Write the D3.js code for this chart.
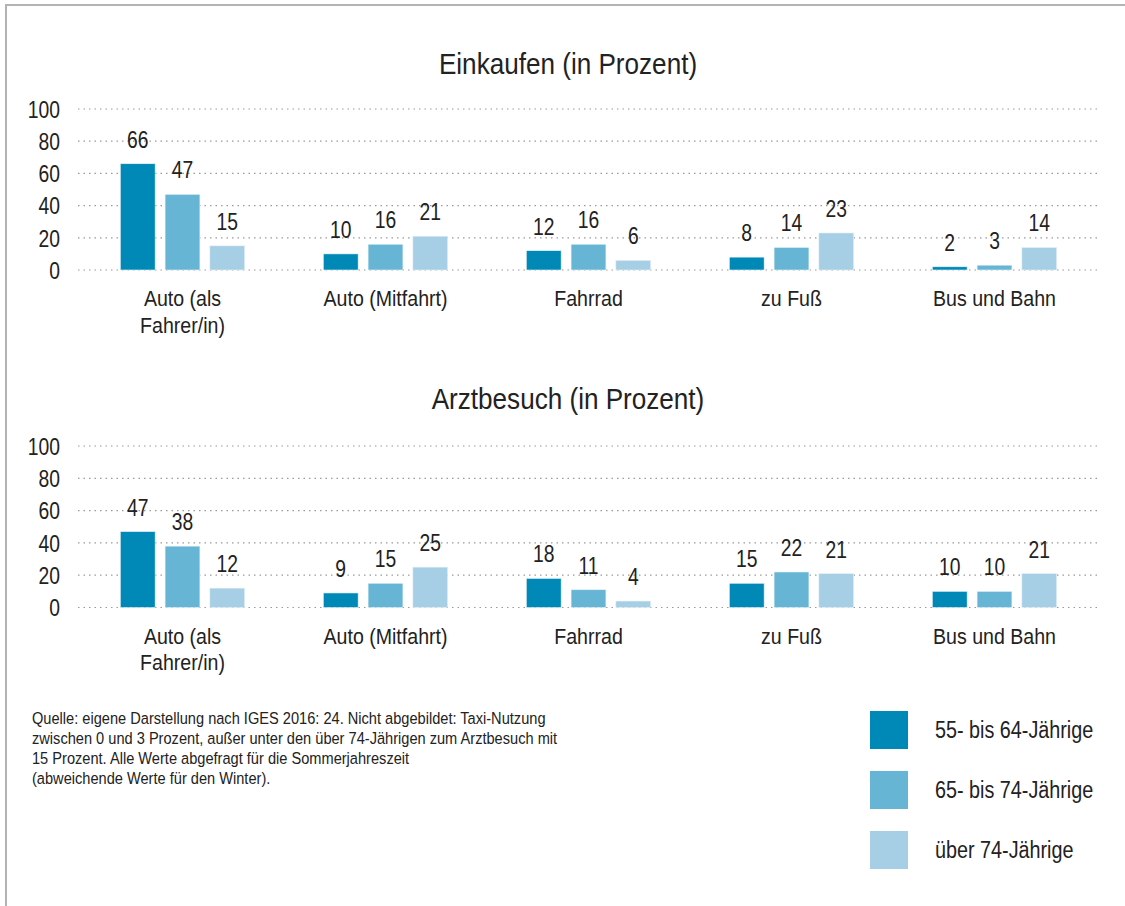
<!DOCTYPE html>
<html><head><meta charset="utf-8">
<script src="https://cdn.jsdelivr.net/npm/d3@7"></script>
<style>
html,body{margin:0;padding:0;background:#fff;}
svg{display:block;}
text{font-family:"Liberation Sans Narrow","Arial Narrow","Liberation Sans",Arial,sans-serif;fill:#222;}
</style></head>
<body>
<svg id="chart" width="1125" height="906"></svg>
<script>
const categories = [["Auto (als","Fahrer/in)"],["Auto (Mitfahrt)"],["Fahrrad"],["zu Fuß"],["Bus und Bahn"]];
const seriesNames = ["55- bis 64-Jährige","65- bis 74-Jährige","über 74-Jährige"];
const colors = ["#0088b7","#66b5d5","#a6cee4"];
const einkaufen = [[66,47,15],[10,16,21],[12,16,6],[8,14,23],[2,3,14]];
const arztbesuch = [[47,38,12],[9,15,25],[18,11,4],[15,22,21],[10,10,21]];
const yTicks = [0,20,40,60,80,100];
const titles = ["Einkaufen (in Prozent)","Arztbesuch (in Prozent)"];
const footnote = [
 "Quelle: eigene Darstellung nach IGES 2016: 24. Nicht abgebildet: Taxi-Nutzung",
 "zwischen 0 und 3 Prozent, außer unter den über 74-Jährigen zum Arztbesuch mit",
 "15 Prozent. Alle Werte abgefragt für die Sommerjahreszeit",
 "(abweichende Werte für den Winter)."
];

const svg = d3.select("#chart");
// narrow text: placed at origin, moved and condensed with a transform
function ntext(parent, x, y, size, sx, anchor){
  return parent.append("text").attr("x",0).attr("y",0)
    .attr("transform",`translate(${x},${y}) scale(${sx},1)`)
    .attr("font-size",size).attr("text-anchor",anchor||"start");
}
// frame
svg.append("path").attr("d","M6,906 V5 H1125").attr("fill","none").attr("stroke","#b3b3b3").attr("stroke-width",2);

const catKeys = categories.map(c=>c.join(" "));
const x0 = d3.scaleBand().domain(catKeys).range([81,1096]);
const x1 = d3.scaleBand().domain(d3.range(3)).range([0,x0.bandwidth()]).paddingInner(10/45).paddingOuter(0.878);

function panel(data, title, y0, y100, titleY){
  const y = d3.scaleLinear().domain([0,100]).range([y0,y100]);
  const g = svg.append("g");
  ntext(g, 568, titleY, 30, 0.87, "middle").text(title);
  // grid
  g.selectAll("line.grid").data(yTicks).join("line")
    .attr("x1",78).attr("x2",1098).attr("y1",d=>y(d)).attr("y2",d=>y(d))
    .attr("stroke","#9a9a9a").attr("stroke-width",1.2).attr("stroke-dasharray","1.5,4");
  const ax = d3.axisLeft(y).tickValues(yTicks).tickSize(0).tickPadding(0);
  const axg = g.append("g").attr("transform","translate(60,0)").call(ax);
  axg.select(".domain").remove();
  axg.attr("font-family",null).attr("font-size",null);
  axg.selectAll("text").attr("font-size",23).attr("fill","#222").attr("dy","0.36em")
    .attr("transform","scale(0.84,1)");
  // bars
  const groups = g.selectAll("g.cat").data(data).join("g")
    .attr("transform",(d,i)=>`translate(${x0(catKeys[i])},0)`);
  groups.selectAll("rect").data(d=>d).join("rect")
    .attr("x",(d,i)=>x1(i)).attr("width",x1.bandwidth())
    .attr("y",d=>y(d)).attr("height",d=>y(0)-y(d))
    .attr("fill",(d,i)=>colors[i]).attr("stroke","#e6f2f8").attr("stroke-width",0.6);
  groups.each(function(d){
    const gg = d3.select(this);
    d.forEach((v,i)=>ntext(gg, x1(i)+x1.bandwidth()/2, y(v)-16, 23, 0.84, "middle").text(v));
  });
  // category labels
  categories.forEach((c,i)=>{
    const t = ntext(g, x0(catKeys[i])+x0.bandwidth()/2, y0+36, 22, 0.89, "middle");
    c.forEach((line,j)=>t.append("tspan").attr("x",0).attr("dy",j?27:0).text(line));
  });
}
panel(einkaufen, titles[0], 270, 109, 74);
panel(arztbesuch, titles[1], 607.5, 446, 409);

// footnote
const fn = ntext(svg, 32, 724, 16.5, 0.885, "start");
footnote.forEach((l,i)=>fn.append("tspan").attr("x",0).attr("y",i*20).text(l));

// legend
const lg = svg.append("g");
seriesNames.forEach((s,i)=>{
  const yy = 711 + i*60;
  lg.append("rect").attr("x",870).attr("y",yy).attr("width",38).attr("height",38).attr("fill",colors[i]);
  ntext(lg, 935, yy+19, 23, 0.86, "start").attr("dy","0.36em").text(s);
});
</script>
</body></html>
